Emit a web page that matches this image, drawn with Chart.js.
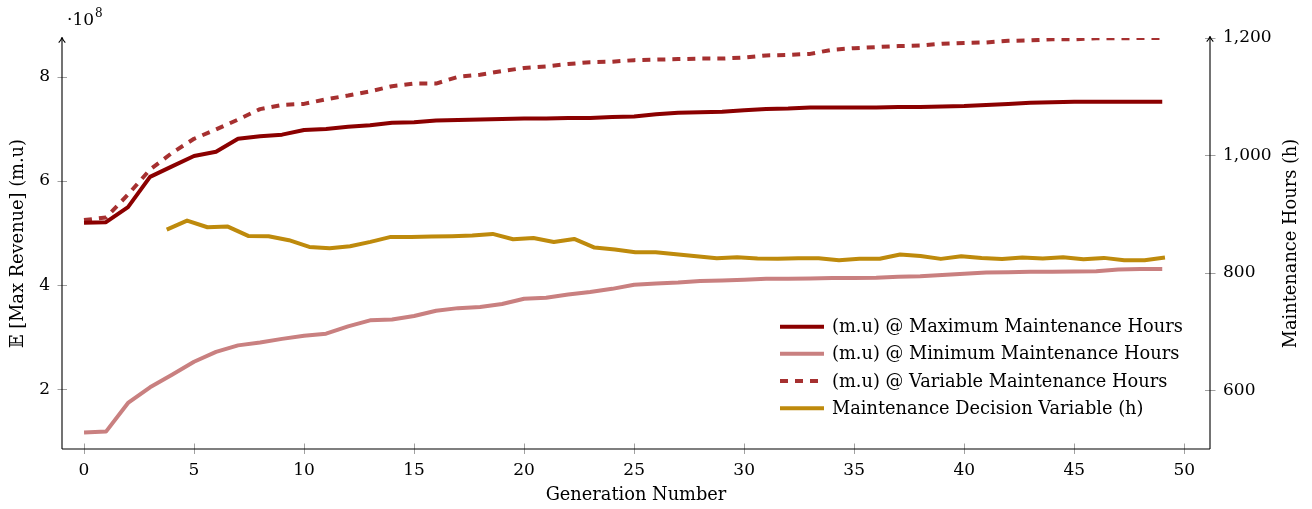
<!DOCTYPE html>
<html><head><meta charset="utf-8">
<script src="https://cdn.jsdelivr.net/npm/chart.js@4"></script>
<style>html,body{margin:0;padding:0;background:#fff}</style>
</head><body>
<canvas id="c" width="1312" height="509"></canvas>
<script>
// ---------- DATA ----------
const generations = [0,1,2,3,4,5,6,7,8,9,10,11,12,13,14,15,16,17,18,19,20,21,22,23,24,25,26,27,28,29,30,31,32,33,34,35,36,37,38,39,40,41,42,43,44,45,46,47,48,49];
// revenue values in units of 10^8 (m.u)
const revenueMaxHours = [5.20,5.21,5.50,6.08,6.28,6.48,6.56,6.81,6.86,6.89,6.98,7.00,7.04,7.07,7.12,7.13,7.16,7.17,7.18,7.19,7.20,7.20,7.21,7.21,7.23,7.24,7.28,7.31,7.32,7.33,7.36,7.38,7.39,7.41,7.41,7.41,7.41,7.42,7.42,7.43,7.44,7.46,7.48,7.50,7.51,7.52,7.52,7.52,7.52,7.52];
const revenueMinHours = [1.175,1.19,1.74,2.04,2.28,2.53,2.72,2.845,2.90,2.97,3.03,3.07,3.21,3.325,3.34,3.41,3.51,3.56,3.58,3.64,3.74,3.76,3.82,3.87,3.93,4.01,4.035,4.05,4.08,4.09,4.105,4.125,4.125,4.13,4.14,4.14,4.145,4.16,4.17,4.195,4.22,4.245,4.25,4.26,4.26,4.265,4.27,4.30,4.31,4.31];
const revenueVarHours = [5.25,5.30,5.74,6.22,6.54,6.81,6.99,7.18,7.38,7.46,7.48,7.57,7.64,7.72,7.82,7.87,7.87,8.00,8.04,8.11,8.17,8.20,8.245,8.28,8.29,8.32,8.33,8.34,8.35,8.35,8.37,8.41,8.42,8.44,8.52,8.55,8.57,8.59,8.60,8.635,8.65,8.66,8.69,8.70,8.72,8.72,8.74,8.74,8.745,8.745];
// maintenance decision variable (hours), one value per step
const decisionHours = [873.7,889,877.7,878.8,862.9,862.4,855.6,844.2,842,845.4,852.7,861.2,861.2,861.8,862.4,863.5,866.3,857.3,859.5,852.7,857.8,843.1,839.7,835,835.2,831.8,828.4,825,826.7,824.5,824,825,825,821.6,824,824,831.3,828.7,823.8,828.4,825.5,823.8,826.2,824.5,826.7,823.3,825.5,821.6,821.6,826.2];
const xTicks = [0,5,10,15,20,25,30,35,40,45,50];
const leftTicks = [2,4,6,8];
const rightTicks = [600,800,1000,1200];
const seriesLabels = ['(m.u) @ Maximum Maintenance Hours','(m.u) @ Minimum Maintenance Hours','(m.u) @ Variable Maintenance Hours','Maintenance Decision Variable (h)'];

// ---------- STYLE ----------
const FONT_FAMILY = '"DejaVu Serif", "Liberation Serif", serif';
const FS = 17;      // tick numbers
const FT = 17.8;    // words (titles, legend)
const TXT = '#000000';
const C_MAX = '#8B0000', C_MIN = '#C98080', C_VAR = '#A63030', C_DEC = '#BE8A0C';
const TICK_C = '#888888';

function pts(xs, ys){ return xs.map((x,i)=>({x:x, y:ys[i]})); }

const axisPlugin = {
  id: 'axisDecor',
  afterDraw(chart){
    const c = chart.ctx, a = chart.chartArea;
    const sx = chart.scales.x, sy = chart.scales.y, sy2 = chart.scales.y2;
    c.save();
    // ticks (crossing the axis lines)
    c.strokeStyle = TICK_C; c.lineWidth = 0.8;
    c.beginPath();
    xTicks.forEach(v=>{ const p = Math.round(sx.getPixelForValue(v))+0.5; c.moveTo(p, a.bottom-5.5); c.lineTo(p, a.bottom+5); });
    leftTicks.forEach(v=>{ const p = Math.round(sy.getPixelForValue(v))+0.5; c.moveTo(a.left-4.5, p); c.lineTo(a.left+5, p); });
    rightTicks.forEach(v=>{ const p = Math.round(sy2.getPixelForValue(v))+0.5; c.moveTo(a.right-5, p); c.lineTo(a.right+5.5, p); });
    c.stroke();
    // axis lines
    c.strokeStyle = '#000'; c.lineWidth = 1.1;
    c.beginPath();
    c.moveTo(a.left, a.bottom); c.lineTo(a.right, a.bottom);
    c.moveTo(a.left, a.bottom); c.lineTo(a.left, a.top - 0.5);
    c.moveTo(a.right, a.bottom); c.lineTo(a.right, a.top - 1.5);
    c.stroke();
    // arrow heads
    function arrow(x, y){
      c.beginPath();
      c.moveTo(x-3.3, y+5.2); c.quadraticCurveTo(x-0.6, y+2.2, x, y);
      c.moveTo(x+3.3, y+5.2); c.quadraticCurveTo(x+0.6, y+2.2, x, y);
      c.stroke();
    }
    arrow(a.left, a.top - 0.5);
    arrow(a.right, a.top - 1.5);
    // ·10^8 multiplier
    c.fillStyle = TXT; c.textBaseline = 'alphabetic'; c.textAlign = 'left';
    c.font = FS + 'px ' + FONT_FAMILY;
    c.fillText('\u00B710', 67, 25);
    const w = c.measureText('\u00B710').width;
    c.font = '12px ' + FONT_FAMILY;
    c.fillText('8', 67 + w + 1, 17);
    // right axis title (reads bottom-to-top)
    c.save();
    c.font = FT + 'px ' + FONT_FAMILY;
    c.translate(1291, (a.top + a.bottom)/2);
    c.rotate(-Math.PI/2);
    c.textAlign = 'center'; c.textBaseline = 'middle';
    c.fillText('Maintenance Hours (h)', 0, 0);
    c.restore();
    // legend
    const rows = [326.7, 353.7, 381, 408.3];
    chart.data.datasets.forEach((ds, i)=>{
      const y = rows[i];
      c.save();
      c.strokeStyle = ds.borderColor; c.lineWidth = ds.borderWidth; c.lineCap = 'butt';
      c.setLineDash(ds.borderDash || []);
      c.beginPath(); c.moveTo(780, y); c.lineTo(824, y); c.stroke();
      c.restore();
      c.fillStyle = TXT; c.font = FT + 'px ' + FONT_FAMILY;
      c.textAlign = 'left'; c.textBaseline = 'middle';
      c.fillText(ds.label, 832, y + 1);
    });
    c.restore();
  }
};

const tickFont = { family: FONT_FAMILY, size: FS };
const titleFont = { family: FONT_FAMILY, size: FT };

new Chart(document.getElementById('c'), {
  type: 'line',
  data: {
    datasets: [
      { label: seriesLabels[0], data: pts(generations, revenueMaxHours), borderColor: C_MAX, borderWidth: 4, xAxisID: 'x', yAxisID: 'y' },
      { label: seriesLabels[1], data: pts(generations, revenueMinHours), borderColor: C_MIN, borderWidth: 4, xAxisID: 'x', yAxisID: 'y' },
      { label: seriesLabels[2], data: pts(generations, revenueVarHours), borderColor: C_VAR, borderWidth: 4, borderDash: [8,7], xAxisID: 'x', yAxisID: 'y' },
      { label: seriesLabels[3], data: pts(generations, decisionHours), borderColor: C_DEC, borderWidth: 4, xAxisID: 'x2', yAxisID: 'y2' }
    ]
  },
  options: {
    responsive: false,
    animation: false,
    devicePixelRatio: 1,
    layout: { padding: { top: 38, left: 0, right: 0, bottom: 0 } },
    elements: { point: { radius: 0 }, line: { tension: 0, borderJoinStyle: 'round', borderCapStyle: 'butt', fill: false } },
    plugins: { legend: { display: false }, tooltip: { enabled: false } },
    scales: {
      x: {
        type: 'linear', position: 'bottom', min: -1, max: 51.17,
        afterBuildTicks: s => { s.ticks = xTicks.map(v => ({ value: v })); },
        afterFit: s => { s.height = 60; },
        grid: { display: false, drawTicks: false }, border: { display: false },
        ticks: { font: tickFont, color: TXT, padding: 11, maxRotation: 0, autoSkip: false },
        title: { display: true, text: 'Generation Number', font: titleFont, color: TXT, padding: { top: 0, bottom: 3 } }
      },
      x2: { type: 'linear', display: false, min: -5.14, max: 51.21 },
      y: {
        type: 'linear', position: 'left', min: 0.856, max: 8.745,
        afterBuildTicks: s => { s.ticks = leftTicks.map(v => ({ value: v })); },
        afterFit: s => { s.width = 62; },
        grid: { display: false, drawTicks: false }, border: { display: false },
        ticks: { font: tickFont, color: TXT, padding: 12 },
        title: { display: true, text: '\u{1D53C} [Max Revenue] (m.u)', font: titleFont, color: TXT, padding: { top: 8, bottom: 0 } }
      },
      y2: {
        type: 'linear', position: 'right', min: 500, max: 1200,
        afterBuildTicks: s => { s.ticks = rightTicks.map(v => ({ value: v })); },
        afterFit: s => { s.width = 102; },
        grid: { display: false, drawTicks: false }, border: { display: false },
        ticks: { font: tickFont, color: TXT, padding: 13, callback: v => v.toLocaleString('en-US') },
        title: { display: false }
      }
    }
  },
  plugins: [axisPlugin]
});
</script>
</body></html>
